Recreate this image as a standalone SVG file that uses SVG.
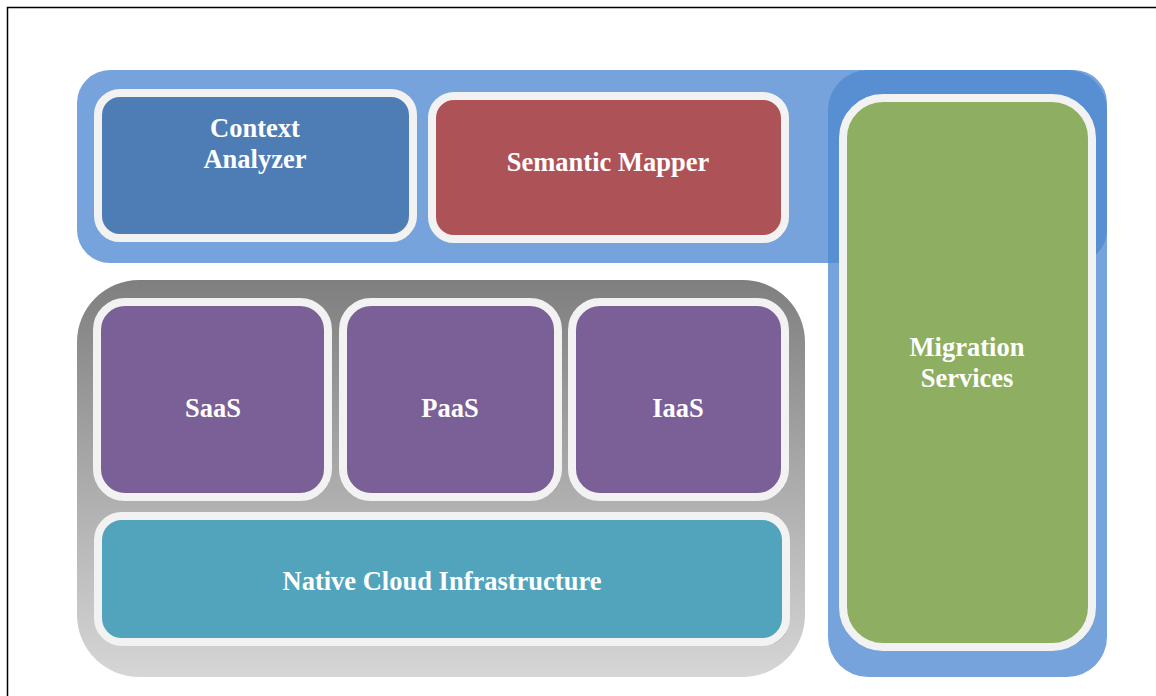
<svg xmlns="http://www.w3.org/2000/svg" width="1156" height="696" viewBox="0 0 1156 696">
  <defs>
    <linearGradient id="grayFade" x1="0" y1="0" x2="0" y2="1">
      <stop offset="0" stop-color="#7f7f7f"/>
      <stop offset="1" stop-color="#d6d6d6"/>
    </linearGradient>
    <style>
      .tray { fill: #5089d1; fill-opacity: 0.78; }
      .box { stroke: #f2f2f2; stroke-width: 8; }
      .label { font-family: "Liberation Serif", "Times New Roman", serif; font-weight: bold; font-size: 26.5px; fill: #ffffff; text-anchor: middle; }
    </style>
  </defs>

  <rect x="7.5" y="7.5" width="1170" height="720" fill="#ffffff" stroke="#000000" stroke-width="1.5"/>

  <!-- blue trays: top row band and the migration column -->
  <g id="top-band">
    <rect class="tray" x="77" y="70" width="1030" height="193" rx="33"/>
  </g>
  <g id="migration-tray">
    <rect class="tray" x="828" y="70" width="279" height="607" rx="40"/>
  </g>

  <!-- gray tray holding the cloud stack -->
  <g id="cloud-stack">
    <rect x="77" y="280" width="728" height="397" rx="62" fill="url(#grayFade)"/>
  </g>

  <g id="context-analyzer">
    <rect x="101" y="96" width="315" height="145" rx="22" fill="#3f6899"/>
    <rect class="box" x="98" y="93" width="315" height="145" rx="22" fill="#4e7db5"/>
    <text class="label" x="255" y="137">Context</text>
    <text class="label" x="255" y="168">Analyzer</text>
  </g>

  <g id="semantic-mapper">
    <rect x="435" y="99" width="353" height="143" rx="22" fill="#6c6284"/>
    <rect class="box" x="432" y="96" width="353" height="143" rx="22" fill="#ad5357"/>
    <text class="label" x="608" y="171">Semantic Mapper</text>
  </g>

  <g id="saas">
    <rect x="100" y="305" width="231" height="195" rx="28" fill="#6e6080"/>
    <rect class="box" x="97" y="302" width="231" height="195" rx="28" fill="#7a6096"/>
    <text class="label" x="213" y="417">SaaS</text>
  </g>

  <g id="paas">
    <rect x="346" y="305" width="215" height="195" rx="28" fill="#6e6080"/>
    <rect class="box" x="343" y="302" width="215" height="195" rx="28" fill="#7a6096"/>
    <text class="label" x="450" y="417">PaaS</text>
  </g>

  <g id="iaas">
    <rect x="575" y="305" width="213" height="195" rx="28" fill="#6e6080"/>
    <rect class="box" x="572" y="302" width="213" height="195" rx="28" fill="#7a6096"/>
    <text class="label" x="678" y="417">IaaS</text>
  </g>

  <g id="native-cloud-infrastructure">
    <rect x="101" y="519" width="688" height="126" rx="24" fill="#6f9598"/>
    <rect class="box" x="98" y="516" width="688" height="126" rx="24" fill="#52a4bc"/>
    <text class="label" x="442" y="590">Native Cloud Infrastructure</text>
  </g>

  <g id="migration-services">
    <rect x="846" y="101" width="249" height="549" rx="40" fill="#5f8088"/>
    <rect class="box" x="843" y="98" width="249" height="549" rx="40" fill="#8eae61"/>
    <text class="label" x="967" y="356">Migration</text>
    <text class="label" x="967" y="387">Services</text>
  </g>
</svg>
